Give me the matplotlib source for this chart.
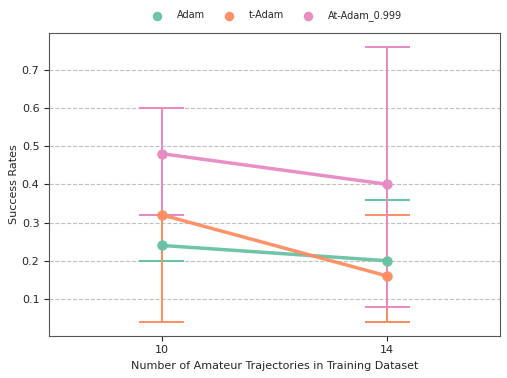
import numpy as np
import matplotlib.pyplot as plt

categories = ['10', '14']
methods = ['Adam', 't-Adam', 'At-Adam_0.999']
colors = ['#66c2a5', '#fc8d62', '#e78ac3']

means = {
    'Adam': [0.24, 0.20],
    't-Adam': [0.32, 0.16],
    'At-Adam_0.999': [0.48, 0.40],
}
ci_low = {
    'Adam': [0.20, 0.04],
    't-Adam': [0.04, 0.04],
    'At-Adam_0.999': [0.32, 0.08],
}
ci_high = {
    'Adam': [0.32, 0.36],
    't-Adam': [0.60, 0.32],
    'At-Adam_0.999': [0.60, 0.76],
}

plt.rcParams['font.size'] = 8
plt.rcParams['text.color'] = '#262626'
plt.rcParams['axes.labelcolor'] = '#262626'
fig = plt.figure(figsize=(5.07, 3.78), dpi=100)
ax = fig.add_axes([0.097, 0.112, 0.889, 0.801])

x = np.arange(len(categories))
cap = 0.2
for m, c in zip(methods, colors):
    y = np.array(means[m])
    lo = np.array(ci_low[m])
    hi = np.array(ci_high[m])
    ax.plot(x, y, color=c, lw=2.5, alpha=0.95, zorder=3)
    ax.scatter(x, y, color=c, s=42, alpha=0.95, zorder=4, label=m)
    ax.vlines(x, lo, hi, color=c, lw=1.4, zorder=2)
    ax.hlines(lo, x - cap / 2, x + cap / 2, color=c, lw=1.4, zorder=2)
    ax.hlines(hi, x - cap / 2, x + cap / 2, color=c, lw=1.4, zorder=2)

ax.set_xlim(-0.5, 1.5)
ax.set_ylim(0.004, 0.796)
ax.set_xticks(x)
ax.set_xticklabels(categories)
ax.set_yticks([0.1, 0.2, 0.3, 0.4, 0.5, 0.6, 0.7])
ax.yaxis.grid(True, ls='--', color='#c0c0c0', lw=0.8)
ax.set_axisbelow(True)
for s in ax.spines.values():
    s.set_color('#555555')
ax.tick_params(colors='#262626')
ax.set_xlabel('Number of Amateur Trajectories in Training Dataset')
ax.set_ylabel('Success Rates', labelpad=2)

ax.legend(loc='lower center', bbox_to_anchor=(0.5, 1.01), ncol=3, frameon=False,
          fontsize=7, handletextpad=1.1, columnspacing=1.4, markerscale=0.9)

fig.savefig('out.png', dpi=100)
